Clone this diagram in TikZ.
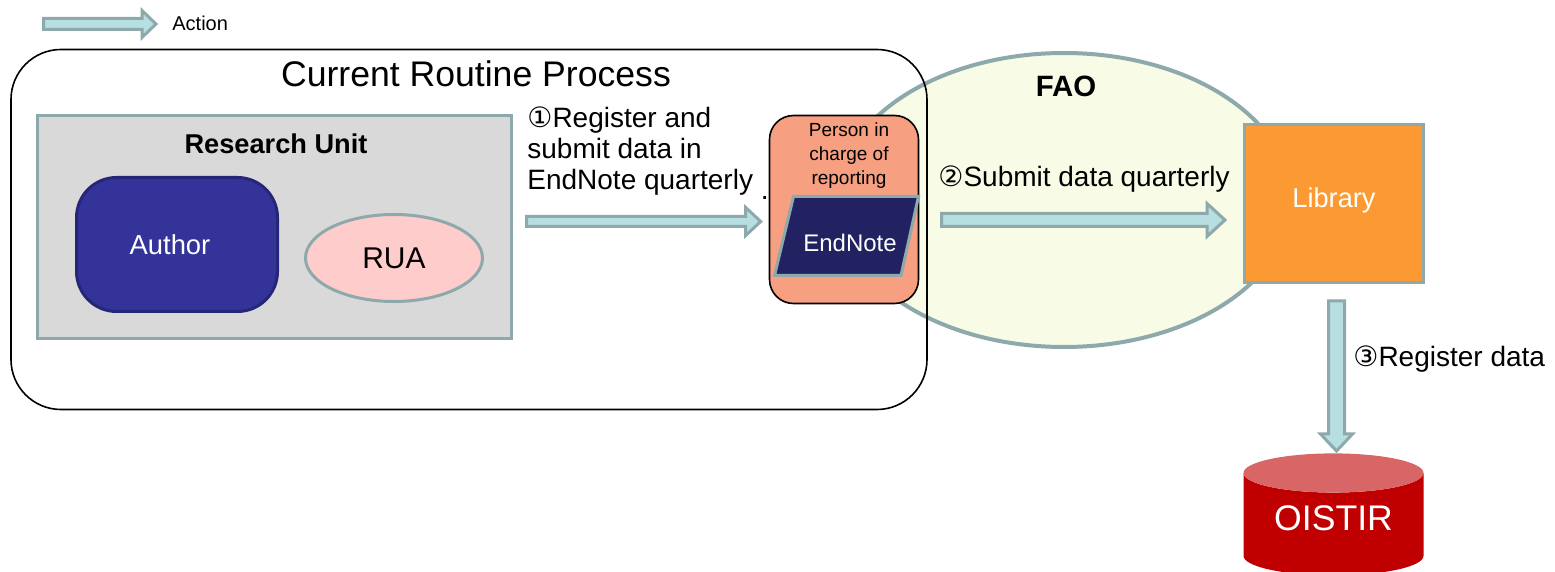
\documentclass[tikz,border=0pt]{standalone}
\usepackage{fontspec}
\setmainfont{Liberation Sans}
\newfontfamily\circfont{DejaVu Sans}
\usetikzlibrary{shapes,calc}

\definecolor{edgegray}{HTML}{8EA9AB}
\definecolor{arrowfill}{HTML}{B7DEE0}
\definecolor{faofill}{HTML}{F8FCE6}
\definecolor{rugray}{HTML}{D9D9D9}
\definecolor{authorblue}{HTML}{333399}
\definecolor{authoredge}{HTML}{262678}
\definecolor{ruapink}{HTML}{FFCCCC}
\definecolor{personfill}{HTML}{F6A081}
\definecolor{endnoteblue}{HTML}{222262}
\definecolor{libraryorange}{HTML}{FB9A33}
\definecolor{dbred}{HTML}{C00000}
\definecolor{dbtop}{HTML}{D96666}

\tikzset{
  action/.style={fill=arrowfill, draw=edgegray, line width=1.5pt},
  unitbox/.style={rectangle, draw=edgegray, line width=1.5pt, inner sep=0pt},
  steptext/.style={inner sep=0pt, font=\fontsize{14}{15.5}\selectfont, align=left},
}

% block arrow: from, to, half shaft, half head, head length
\newcommand{\blockarrow}[5]{%
  \filldraw[action] let \p1=($(#2)-(#1)$), \n1={veclen(\x1,\y1)}, \n2={atan2(\y1,\x1)} in
    [shift={(#1)}, rotate=\n2]
    (0pt,-#3) -- ({\n1-#5},-#3) -- ({\n1-#5},-#4) -- ({\n1+0pt},0pt) -- ({\n1-#5},#4) -- ({\n1-#5},#3) -- (0pt,#3) -- cycle;}
\newcommand{\circnum}[1]{{\circfont #1}}

\begin{document}
\begin{tikzpicture}[x=0.5pt, y=-0.5pt]
\useasboundingbox (0,0) rectangle (1555,572);

\node[ellipse, fill=faofill, draw=edgegray, line width=2pt, minimum width=227pt, minimum height=147pt, inner sep=0pt] (fao) at (1064,200) {};
\node[anchor=base, font=\bfseries\fontsize{14.7}{18}\selectfont] (faotitle) at (1066,97) {FAO};

\node[rectangle, rounded corners=25pt, draw, line width=0.8pt, minimum width=458pt, minimum height=180pt] (routine) at (469,229.5) {};
\node[anchor=base, font=\fontsize{17.8}{21}\selectfont] (routinetitle) at (476,87) {Current Routine Process};

\node[unitbox, fill=rugray, minimum width=237pt, minimum height=111.5pt] (ru) at (274.5,227) {};
\node[anchor=base, font=\bfseries\fontsize{13.6}{16}\selectfont] (rutitle) at (276,154) {Research Unit};
\node[rectangle, rounded corners=20pt, fill=authorblue, draw=authoredge, line width=1.5pt, minimum width=100.5pt, minimum height=67pt, text=white, font=\fontsize{13.7}{16}\selectfont] (author) at (177,244.5) {Author\hspace*{7pt}};
\node[ellipse, fill=ruapink, draw=edgegray, line width=1.5pt, minimum width=88.5pt, minimum height=43.5pt, inner sep=0pt, font=\fontsize{15}{17}\selectfont] (rua) at (394,258) {RUA};

\node[rectangle, rounded corners=12pt, fill=personfill, draw, line width=0.8pt, minimum width=74.5pt, minimum height=94pt] (person) at (844,209.5) {};
\node[anchor=north, align=center, inner sep=0pt, font=\fontsize{9.5}{12}\selectfont] (persontext) at (849,122) {Person in\\charge of\\reporting};
\filldraw[fill=endnoteblue, draw=edgegray, line width=1.5pt] (774.5,275.5) -- (793.5,196.5) -- (918.5,196.5) -- (901,275.5) -- cycle;
\node[anchor=base, inner sep=0pt, text=white, font=\fontsize{12}{14}\selectfont] (endnote) at (850,252) {EndNote};

\node[unitbox, fill=libraryorange, minimum width=89.5pt, minimum height=79pt, text depth=5.7pt, text=white, font=\fontsize{13.6}{16}\selectfont] (library) at (1334,203.5) {Library};
\node[cylinder, shape border rotate=90, aspect=0.33, cylinder uses custom fill, cylinder body fill=dbred, cylinder end fill=dbtop, minimum width=90pt, minimum height=61pt, inner sep=0pt, anchor=north, text depth=6pt, text=white, font=\fontsize{17.8}{21}\selectfont] (oistir) at (1333.5,453) {OISTIR};

\coordinate (legs) at (43.5,24);
\node[anchor=base west, inner sep=0pt, font=\fontsize{10}{12}\selectfont] (legendtext) at (172,31) {Action};
\coordinate (lege) at ($(legs -| legendtext.west)+(-8pt,0)$);
\blockarrow{legs}{lege}{2.75pt}{6.75pt}{7pt}

\node[steptext, anchor=north west] (step1) at (527,106) {\circnum{①}Register and\\submit data in\\EndNote quarterly \raisebox{-5pt}{.}};
\coordinate (a1s) at (526.5,221.5);
\coordinate (a1e) at ($(a1s -| person.west)+(-4pt,0)$);
\blockarrow{a1s}{a1e}{2.5pt}{7pt}{7.5pt}

\node[steptext, anchor=base west] (step2) at (938,187) {\circnum{②}Submit data quarterly};
\coordinate (a2s) at (941.5,220);
\coordinate (a2e) at ($(a2s -| library.west)+(-9pt,0)$);
\blockarrow{a2s}{a2e}{3.25pt}{8.25pt}{9pt}

\node[steptext, anchor=base west] (step3) at (1353,367) {\circnum{③}Register data};
\coordinate (a3s) at ($(library.south)+(1.25pt,-8.5pt)$);
\coordinate (a3e) at ($(a3s |- oistir.north)+(0,1pt)$);
\blockarrow{a3s}{a3e}{4pt}{8pt}{8.5pt}
\end{tikzpicture}
\end{document}
